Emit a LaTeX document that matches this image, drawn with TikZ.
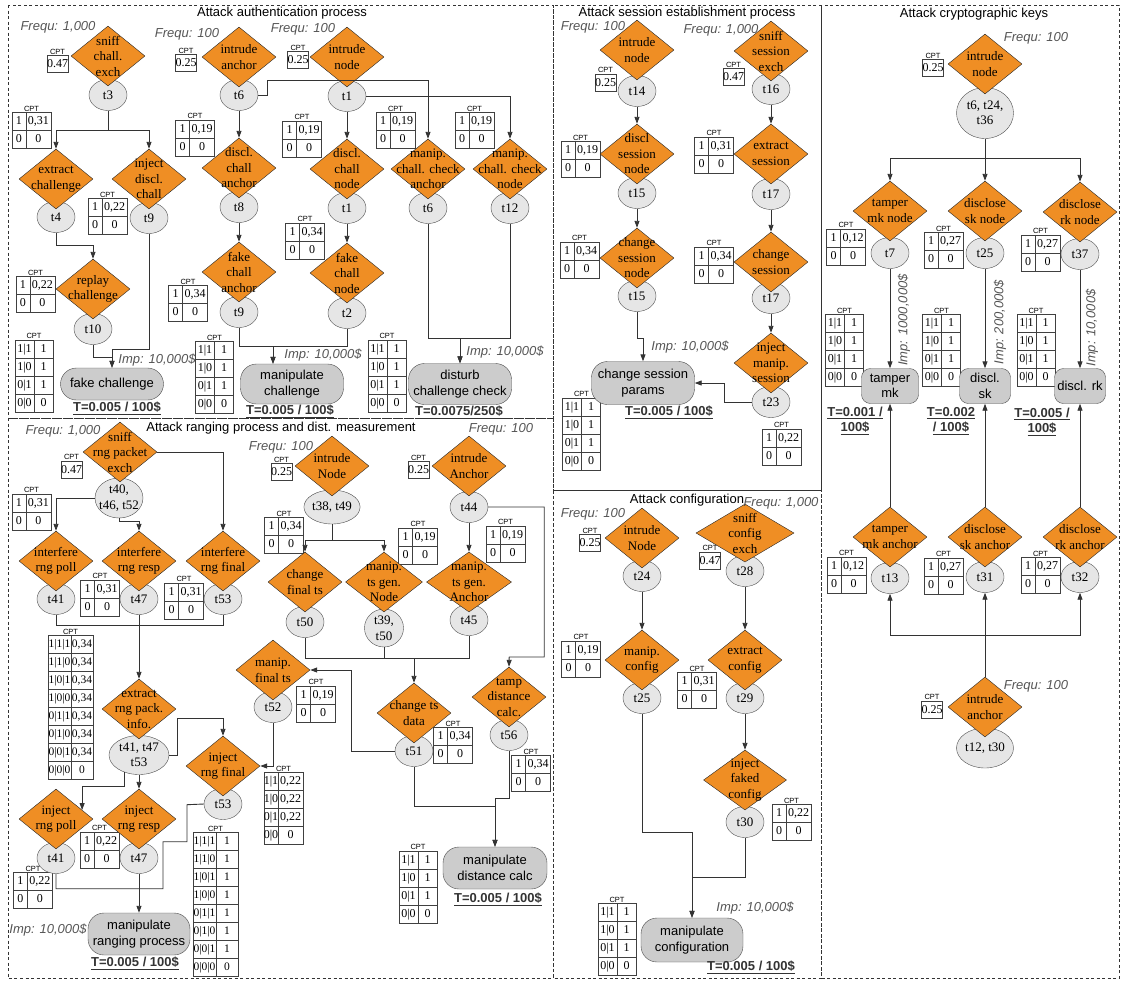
\documentclass[tikz,border=0pt]{standalone}
\usepackage{fontspec}
\setmainfont{Liberation Serif}
\setsansfont{Liberation Sans}
\usetikzlibrary{arrows.meta,positioning,shapes.geometric,matrix}
\definecolor{atkOrange}{HTML}{EF8E24}
\definecolor{evtGray}{HTML}{E6E6E6}
\definecolor{goalGray}{HTML}{CCCCCC}
\definecolor{noteGray}{HTML}{555555}
\definecolor{costGray}{HTML}{333333}
\newcommand{\nodefont}{\fontsize{13}{15.5}\selectfont}
\newcommand{\cellfont}{\fontsize{12}{14}\selectfont}
\newcommand{\smallcellfont}{\fontsize{11.5}{13}\selectfont}
\newcommand{\labfont}{\sffamily\fontsize{13}{15.5}\selectfont}

\begin{document}
\begin{tikzpicture}[x=1pt,y=-1pt,
    atkd/.style={diamond,draw=black!85,fill=atkOrange,minimum width=74pt,minimum height=60pt,inner sep=0pt},
    atxt/.style={font=\nodefont,align=center,inner sep=0pt},
    evt/.style={ellipse,draw=black!70,fill=evtGray,minimum width=38pt,minimum height=31pt,inner sep=0pt,font=\nodefont,align=center},
    goal/.style={rectangle,rounded corners=16pt,draw=black!70,fill=goalGray,minimum width=103pt,minimum height=40pt,inner sep=0pt,font=\labfont,align=center},
    keygoal/.style={goal,rounded corners=9pt,minimum width=51pt,minimum height=35pt},
    link/.style={black!80,line width=0.9pt,-{Triangle[length=7pt,width=5pt]}},
    wire/.style={black!80,line width=0.9pt},
    panel/.style={black!80,line width=0.8pt,dash pattern=on 3pt off 2.5pt},
    title/.style={font=\labfont,inner sep=0pt},
    note/.style={font=\labfont\itshape,text=noteGray,inner sep=0pt},
    cost/.style={font=\labfont\bfseries,text=costGray,align=center,inner sep=0pt},
    cptlab/.style={font=\sffamily\fontsize{7.5}{8}\selectfont,inner sep=0.6pt},
    cpta/.style={draw=black!75,fill=white,minimum width=19pt,minimum height=17pt,inner sep=0pt,font=\cellfont},
    cptcell/.style={draw=black!75,fill=white,inner sep=0pt,minimum height=18pt,text height=8.5pt,text depth=2.5pt,anchor=center},
    cptb/.style={matrix of nodes,ampersand replacement=\&,inner sep=0pt,column sep=-0.4pt,row sep=-0.4pt,
      nodes={cptcell,font=\cellfont},column 1/.style={nodes={minimum width=14pt}},column 2/.style={nodes={minimum width=25pt}}},
    cptd/.style={cptb,column 1/.style={nodes={minimum width=19pt}},column 2/.style={nodes={minimum width=19pt}}},
    cpth/.style={cptb,nodes={font=\smallcellfont},column 1/.style={nodes={minimum width=23pt}},column 2/.style={nodes={minimum width=22pt}}}]
  \useasboundingbox (0,0) rectangle (1121,983);

  % dashed panels
  \draw[panel] (8,5) rectangle (553,418);
  \draw[panel] (553,5) rectangle (821,490);
  \draw[panel] (821,5) rectangle (1119,978);
  \draw[panel] (8,418) rectangle (553,978);
  \draw[panel] (553,490) rectangle (821,978);

  % CPT tables
  \foreach \nm/\px/\py/\val in {pa1/57.5/64/0.47,pa2/186/63/0.25,pa3/298/60/0.25,pa4/605.5/82.5/0.25,pa5/733.5/77/0.47,
      pa6/933/68/0.25,pa7/932/709.5/0.25,pa8/71.5/469.5/0.47,pa9/281.5/472/0.25,pa10/418.5/470/0.25,pa11/590/543/0.25,pa12/710/560.5/0.47}{
    \node[cpta,label={[cptlab]above:CPT}] (\nm) at (\px,\py) {\val};
  }
  \foreach \nm/\px/\py/\val in {pb1/31.5/130.5/{0,31},pb2/107.5/216.5/{0,22},pb3/195/138/{0,19},pb4/302/139/{0,19},
      pb5/395.5/130.5/{0,19},pb6/474.5/130.5/{0,19},pb7/35.5/294.5/{0,22},pb8/188/303.5/{0,34},pb9/305/241/{0,34},
      pb10/580.5/159.5/{0,19},pb11/714/155/{0,31},pb12/579.5/260/{0,34},pb13/714/265/{0,34},pb14/781.5/447/{0,22},
      pb15/846/247/{0,12},pb16/943.5/250.5/{0,27},pb17/1040.5/253/{0,27},pb18/846.5/575/{0,12},pb19/943.5/576/{0,27},
      pb20/1040.5/575.5/{0,27},pb21/31.5/512/{0,31},pb22/100/598/{0,31},pb23/184/601/{0,31},pb24/33/890.5/{0,22},
      pb25/99.5/850/{0,22},pb26/284/535.5/{0,34},pb27/418/546/{0,19},pb28/505.5/544/{0,19},pb29/316/704/{0,19},
      pb30/453/745.5/{0,34},pb31/531/773.5/{0,34},pb32/581/659/{0,19},pb33/697/690.5/{0,31},pb34/791.5/822.5/{0,22}}{
    \matrix (\nm) [cptb] at (\px,\py) {1 \& \val \\ 0 \& 0 \\};
    \node[cptlab,above=0pt of \nm] (\nm-cap) {CPT};
  }
  \foreach \nm/\px/\py in {pd1/34/376,pd2/214.5/377.5,pd3/387/376,pd4/581.5/434,pd5/844.5/350.5,pd6/941.5/350.5,
      pd7/1036/350.5,pd8/418/887,pd9/617/939.5}{
    \matrix (\nm) [cptd] at (\px,\py) {1|1 \& 1\\ 1|0 \& 1\\ 0|1 \& 1\\ 0|0 \& 0\\};
    \node[cptlab,above=0pt of \nm] (\nm-cap) {CPT};
  }
  \matrix (pd10) [cptb] at (283.5,808.5) {1|1 \& 0,22\\ 1|0 \& 0,22\\ 0|1 \& 0,22\\ 0|0 \& 0\\};
  \node[cptlab,above=0pt of pd10] (pd10-cap) {CPT};
  \matrix (ph1) [cpth] at (70.5,707.5) {1|1|1 \& 0,34\\ 1|1|0 \& 0,34\\ 1|0|1 \& 0,34\\ 1|0|0 \& 0,34\\
    0|1|1 \& 0,34\\ 0|1|0 \& 0,34\\ 0|0|1 \& 0,34\\ 0|0|0 \& 0\\};
  \node[cptlab,above=0pt of ph1] (ph1-cap) {CPT};
  \matrix (ph2) [cpth] at (215.5,904.5) {1|1|1 \& 1\\ 1|1|0 \& 1\\ 1|0|1 \& 1\\ 1|0|0 \& 1\\
    0|1|1 \& 1\\ 0|1|0 \& 1\\ 0|0|1 \& 1\\ 0|0|0 \& 0\\};
  \node[cptlab,above=0pt of ph2] (ph2-cap) {CPT};

  % authentication process
  \node[evt] (t3) at (108,95) {t3};
  \node[evt] (t6a) at (239,95) {t6};
  \node[evt] (t1a) at (347,96) {t1};
  \node[evt] (t4) at (56,217) {t4};
  \node[evt] (t9a) at (149,218) {t9};
  \node[evt] (t8) at (239,207) {t8};
  \node[evt] (t1b) at (347,208) {t1};
  \node[evt] (t6b) at (428,208) {t6};
  \node[evt] (t12) at (510,208) {t12};
  \node[evt] (t10) at (93,329) {t10};
  \node[evt] (t9b) at (239,312) {t9};
  \node[evt] (t2) at (347,313) {t2};
  \node[atkd,label={[atxt]center:sniff\\chall.\\exch}] (sniffChall) at (108,56) {};
  \node[atkd,label={[atxt]center:intrude\\anchor}] (intrAnc) at (239,57) {};
  \node[atkd,label={[atxt]center:intrude\\node}] (intrNode) at (347,57) {};
  \node[atkd,label={[atxt]center:extract\\challenge}] (extrChall) at (56,179) {};
  \node[atkd,label={[atxt]center:inject\\discl.\\chall}] (injChall) at (149,179) {};
  \node[atkd,label={[atxt]center:discl.\\chall\\anchor}] (disAnc) at (239,168) {};
  \node[atkd,label={[atxt]center:discl.\\chall\\node}] (disNode) at (347,169) {};
  \node[atkd,label={[atxt]center:manip.\\chall. check\\anchor}] (chkAnc) at (428,169) {};
  \node[atkd,label={[atxt]center:manip.\\chall. check\\node}] (chkNode) at (510,169) {};
  \node[atkd,label={[atxt]center:replay\\challenge}] (replay) at (93,289) {};
  \node[atkd,label={[atxt]center:fake\\chall\\anchor}] (fakeAnc) at (239,272) {};
  \node[atkd,label={[atxt]center:fake\\chall\\node}] (fakeNode) at (347,273) {};
  \node[goal,minimum height=32pt] (fakeCh) at (112,384) {fake challenge};
  \node[goal] (manCh) at (292,384) {manipulate\\challenge};
  \node[goal,minimum height=41pt] (distCh) at (460,384) {disturb\\challenge check};

  \draw[link] (t3.south) -- ++(0,20) -| (extrChall.north);
  \draw[link] (t3.south) -- ++(0,20) -| (injChall.north);
  \draw[link] (t6a.south) -- (disAnc.north);
  \draw[link] (t6a.east) -- ++(9,0) -- ++(0,-15) -| (chkAnc.north);
  \draw[link] (t1a.south) -- (disNode.north);
  \draw[link] (t1a.east) -| (chkNode.north);
  \draw[link] (t8.south) -- (fakeAnc.north);
  \draw[link] (t1b.south) -- (fakeNode.north);
  \draw[link] (t4.south) -- ++(0,13) -| (replay.north);
  \draw[link] (t10.south) -- ++(0,13) -| (fakeCh.north);
  \draw[link] (t9a.south) -- ++(0,116) -| (fakeCh.north);
  \draw[link] (t9b.south) -- ++(0,19) -| ([xshift=-19pt]manCh.north);
  \draw[link] (t2.south) -- ++(0,18) -| ([xshift=-19pt]manCh.north);
  \draw[link] (t6b.south) -- ++(0,115) -| (distCh.north);
  \draw[link] (t12.south) -- ++(0,115) -| (distCh.north);

  \node[title] (ttlAuth) at (282,13) {Attack authentication process};
  \node[note] (fqSniffChall) at (58,27) {Frequ: 1,000};
  \node[note] (fqIntrAnc) at (187,34) {Frequ: 100};
  \node[note] (fqIntrNode) at (303,29) {Frequ: 100};
  \node[note] (impFakeCh) at (157,360) {Imp: 10,000\$};
  \node[cost] (costFakeCh) at (117,408) {\underline{T=0.005 / 100\$}};
  \node[note] (impManCh) at (323,355) {Imp: 10,000\$};
  \node[cost] (costManCh) at (290,411) {\underline{T=0.005 / 100\$}};
  \node[note] (impDistCh) at (505,352) {Imp: 10,000\$};
  \node[cost] (costDistCh) at (459,412) {\underline{T=0.0075/250\$}};

  % session establishment process
  \node[evt] (t14) at (637,91) {t14};
  \node[evt] (t16) at (771,89) {t16};
  \node[evt] (t15a) at (637,193) {t15};
  \node[evt] (t17a) at (771,194) {t17};
  \node[evt] (t15b) at (637,296) {t15};
  \node[evt] (t17b) at (771,298) {t17};
  \node[evt] (t23) at (771,402) {t23};
  \node[atkd,label={[atxt]center:intrude\\node}] (sesNode) at (637,50) {};
  \node[atkd,label={[atxt]center:sniff\\session\\exch}] (sesSniff) at (771,51) {};
  \node[atkd,label={[atxt]center:discl\\session\\node}] (sesDisc) at (637,154) {};
  \node[atkd,label={[atxt]center:extract\\session}] (sesExtr) at (771,154) {};
  \node[atkd,label={[atxt]center:change\\session\\node}] (sesChgN) at (637,258) {};
  \node[atkd,label={[atxt]center:change\\session}] (sesChg) at (771,262) {};
  \node[atkd,label={[atxt]center:inject\\manip.\\session}] (sesInj) at (771,363) {};
  \node[goal,minimum height=43pt] (sesPar) at (643,383) {change session\\params};

  \draw[link] (t14.south) -- (sesDisc.north);
  \draw[link] (t16.south) -- (sesExtr.north);
  \draw[link] (t15a.south) -- (sesChgN.north);
  \draw[link] (t17a.south) -- (sesChg.north);
  \draw[link] (t17b.south) -- (sesInj.north);
  \draw[link] (t15b.south) -- ++(0,27) -| (sesPar.north);
  \draw[link] (t23.west) -- ++(-27,0) |- (sesPar.east);

  \node[title] (ttlSes) at (687,13) {Attack session establishment process};
  \node[note] (fqSesNode) at (593,27) {Frequ: 100};
  \node[note] (fqSesSniff) at (721,30) {Frequ: 1,000};
  \node[note] (impSesPar) at (690,347) {Imp: 10,000\$};
  \node[cost] (costSesPar) at (669,412) {\underline{T=0.005 / 100\$}};

  % cryptographic keys
  \node[evt,minimum width=57pt,minimum height=51pt] (tk) at (985,113) {t6, t24,\\t36};
  \node[evt] (t7) at (890,253) {t7};
  \node[evt] (t25) at (985,253) {t25};
  \node[evt] (t37) at (1080,254) {t37};
  \node[evt] (t13) at (890,578) {t13};
  \node[evt] (t31) at (985,577) {t31};
  \node[evt] (t32) at (1080,577) {t32};
  \node[evt,minimum width=57pt,minimum height=40pt] (tia) at (985,748) {t12, t30};
  \node[atkd,label={[atxt]center:intrude\\node}] (keyNode) at (985,64) {};
  \node[atkd,label={[atxt]center:tamper\\mk node}] (tmpNode) at (890,211) {};
  \node[atkd,label={[atxt]center:disclose\\sk node}] (skNode) at (985,211) {};
  \node[atkd,label={[atxt]center:disclose\\rk node}] (rkNode) at (1080,212) {};
  \node[atkd,label={[atxt]center:tamper\\mk anchor}] (tmpAnc) at (890,537) {};
  \node[atkd,label={[atxt]center:disclose\\sk anchor}] (skAnc) at (985,537) {};
  \node[atkd,label={[atxt]center:disclose\\rk anchor}] (rkAnc) at (1080,537) {};
  \node[atkd,label={[atxt]center:intrude\\anchor}] (keyAnc) at (985,707) {};
  \node[keygoal,minimum width=57pt] (tmpMk) at (890,386) {tamper\\mk};
  \node[keygoal] (discSk) at (985,386) {discl.\\sk};
  \node[keygoal] (discRk) at (1080,386) {discl. rk};

  \draw[link] (tk.south) -- ++(0,20) -| (tmpNode.north);
  \draw[link] (tk.south) -- (skNode.north);
  \draw[link] (tk.south) -- ++(0,20) -| (rkNode.north);
  \draw[link] (t7.south) -- (tmpMk.north);
  \draw[link] (t25.south) -- (discSk.north);
  \draw[link] (t37.south) -- (discRk.north);
  \draw[link] (tmpAnc.north) -- (tmpMk.south);
  \draw[link] (skAnc.north) -- (discSk.south);
  \draw[link] (rkAnc.north) -- (discRk.south);
  \draw[link] (keyAnc.north) -- ++(0,-41) -| (t13.south);
  \draw[link] (keyAnc.north) -- (t31.south);
  \draw[link] (keyAnc.north) -- ++(0,-41) -| (t32.south);

  \node[title] (ttlKey) at (974,14) {Attack cryptographic keys};
  \node[note] (fqKeyNode) at (1036,38) {Frequ: 100};
  \node[note] (fqKeyAnc) at (1036,686) {Frequ: 100};
  \node[note,rotate=90] (impMk) at (904,320) {Imp: 1000,000\$};
  \node[note,rotate=90] (impSk) at (1000,322) {Imp: 200,000\$};
  \node[note,rotate=90] (impRk) at (1092,328) {Imp: 10,000\$};
  \node[cost] (costMk) at (855,421) {\underline{T=0.001 /}\\\underline{100\$}};
  \node[cost] (costSk) at (951,421) {\underline{T=0.002}\\\underline{/ 100\$}};
  \node[cost] (costRk) at (1042,422) {\underline{T=0.005 /}\\\underline{100\$}};

  % ranging process and distance measurement
  \node[evt,minimum width=48pt,minimum height=40pt,inner xsep=-3pt] (t404652) at (119,498) {t40,\\t46, t52};
  \node[evt] (t41a) at (56,599) {t41};
  \node[evt] (t47a) at (139,599) {t47};
  \node[evt] (t53a) at (223,599) {t53};
  \node[evt,minimum width=60pt,minimum height=39pt] (tx) at (139,755) {t41, t47\\t53};
  \node[evt] (t41b) at (56,858) {t41};
  \node[evt] (t47b) at (139,858) {t47};
  \node[evt] (t53b) at (223,804) {t53};
  \node[evt,minimum width=48pt,minimum height=34pt] (t3849) at (332,507) {t38, t49};
  \node[evt] (t44) at (469,507) {t44};
  \node[evt] (t50) at (305,622) {t50};
  \node[evt,minimum width=39pt,minimum height=38pt] (t3950) at (384,628) {t39,\\t50};
  \node[evt] (t45) at (469,620) {t45};
  \node[evt] (t52) at (273,707) {t52};
  \node[evt] (t51) at (414,751) {t51};
  \node[evt] (t56) at (509,735) {t56};
  \node[atkd,label={[atxt]center:sniff\\rng packet\\exch}] (rngSniff) at (120,452) {};
  \node[atkd,label={[atxt]center:interfere\\rng poll}] (ifPoll) at (56,561) {};
  \node[atkd,label={[atxt]center:interfere\\rng resp}] (ifResp) at (139,561) {};
  \node[atkd,label={[atxt]center:interfere\\rng final}] (ifFin) at (223,561) {};
  \node[atkd,label={[atxt]center:extract\\rng pack.\\info.}] (rngExtr) at (139,709) {};
  \node[atkd,label={[atxt]center:inject\\rng poll}] (injPoll) at (56,819) {};
  \node[atkd,label={[atxt]center:inject\\rng resp}] (injResp) at (139,819) {};
  \node[atkd,label={[atxt]center:inject\\rng final}] (injFin) at (223,766) {};
  \node[atkd,label={[atxt]center:intrude\\Node}] (rngNode) at (332,466) {};
  \node[atkd,label={[atxt]center:intrude\\Anchor}] (rngAnc) at (469,466) {};
  \node[atkd,label={[atxt]center:change\\final ts}] (chgFin) at (305,582) {};
  \node[atkd,minimum width=77pt,label={[atxt]center:manip.\\ts gen.\\Node}] (tsNode) at (384,582) {};
  \node[atkd,minimum width=85pt,label={[atxt]center:manip.\\ts gen.\\Anchor}] (tsAnc) at (469,582) {};
  \node[atkd,label={[atxt]center:manip.\\final ts}] (mFin) at (273,670) {};
  \node[atkd,label={[atxt]center:change ts\\data}] (chgTs) at (414,713) {};
  \node[atkd,label={[atxt]center:tamp\\distance\\calc.}] (tamp) at (509,697) {};
  \node[goal,minimum width=102pt,minimum height=42pt] (manRng) at (139,934) {manipulate\\ranging process};
  \node[goal,minimum width=104pt,minimum height=42pt] (manDist) at (495,868) {manipulate\\distance calc};
  \coordinate (jTs) at (414,658.5);

  \draw[link] (t404652.west) -| (ifPoll.north);
  \draw[link] (t404652.south) -- ++(0,3) -| (ifResp.north);
  \draw[link] (rngSniff.east) -| (ifFin.north);
  \draw[wire] (t41a.south) -- ++(0,11) -| (t53a.south);
  \draw[link] (t47a.south) -- (rngExtr.north);
  \draw[link] (tx.east) -- ++(8,0) -- ++(0,-37) -| (injFin.north);
  \draw[link] (tx.230) -- ++(0,14) -| (injPoll.19);
  \draw[link] (tx.south) -- (injResp.north);
  \draw[wire] (t41b.south) -- ++(0,15) -| ++(107,-47) -| ++(24,-37) -- (t53b.west);
  \draw[link] (t47b.south) -- (manRng.north);
  \draw[link] (t3849.south) -- ++(0,16) -| (chgFin.north);
  \draw[link] (t3849.south) -- ++(0,16) -| (tsNode.north);
  \draw[link] (t44.south) -- (tsAnc.north);
  \draw[link] (t44.east) -- ++(56,0) |- ++(-35,150) -- (tamp.north);
  \draw[wire] (t50.south) -- ++(0,21) -| (t45.south);
  \draw[wire] (t3950.south) -- (t3950.south |- jTs);
  \draw[link] (jTs) -- (chgTs.north);
  \draw[link] (t51.west) -- ++(-43,0) |- (mFin.east);
  \draw[link] (t52.south) |- (injFin.east);
  \draw[link] (t51.south) -- ++(0,40) -| (manDist.north);
  \draw[link] (t56.south) -- ++(0,48) -| (manDist.north);

  \node[title] (ttlRng) at (281,428) {Attack ranging process and dist. measurement};
  \node[note] (fqRngSniff) at (63,431) {Frequ: 1,000};
  \node[note] (fqRngNode) at (281,447) {Frequ: 100};
  \node[note] (fqRngAnc) at (501,429) {Frequ: 100};
  \node[note] (impManRng) at (48,930) {Imp: 10,000\$};
  \node[cost] (costManRng) at (135,963) {\underline{T=0.005 / 100\$}};
  \node[cost] (costManDist) at (498,899) {\underline{T=0.005 / 100\$}};

  % configuration
  \node[evt] (t24) at (642,576) {t24};
  \node[evt] (t28) at (745,571) {t28};
  \node[evt] (t25b) at (642,698) {t25};
  \node[evt] (t29) at (745,698) {t29};
  \node[evt] (t30) at (745,822) {t30};
  \node[atkd,label={[atxt]center:intrude\\Node}] (cfgNode) at (642,538) {};
  \node[atkd,minimum width=98pt,minimum height=58pt,label={[atxt]center:sniff\\config\\exch}] (cfgSniff) at (745,533) {};
  \node[atkd,label={[atxt]center:manip.\\config}] (cfgManip) at (642,660) {};
  \node[atkd,label={[atxt]center:extract\\config}] (cfgExtr) at (745,660) {};
  \node[atkd,minimum width=83pt,label={[atxt]center:inject\\faked\\config}] (cfgInj) at (745,780) {};
  \node[goal,minimum width=102pt,minimum height=44pt] (manCfg) at (692,940) {manipulate\\configuration};

  \draw[link] (t24.south) -- (cfgManip.north);
  \draw[link] (t28.south) -- (cfgExtr.north);
  \draw[link] (t29.south) -- (cfgInj.north);
  \draw[link] (t25b.south) -- ++(0,119) -| (manCfg.north);
  \draw[link] (t30.south) -- ++(0,40) -| (manCfg.north);

  \node[title] (ttlCfg) at (687,500) {Attack configuration};
  \node[note] (fqCfgNode) at (593,514) {Frequ: 100};
  \node[note] (fqCfgSniff) at (781,503) {Frequ: 1,000};
  \node[note] (impManCfg) at (755,908) {Imp: 10,000\$};
  \node[cost] (costManCfg) at (751,967) {\underline{T=0.005 / 100\$}};
\end{tikzpicture}
\end{document}
